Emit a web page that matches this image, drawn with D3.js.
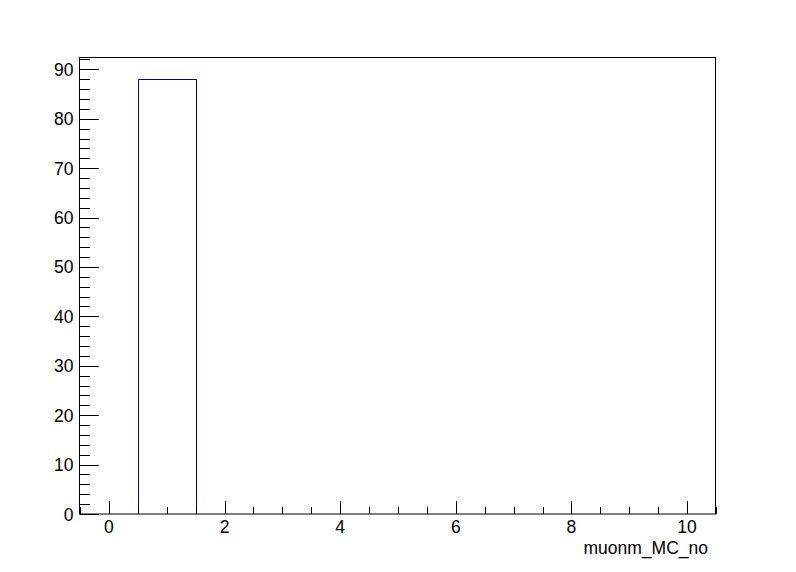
<!DOCTYPE html>
<html>
<head>
<meta charset="utf-8">
<script src="https://cdn.jsdelivr.net/npm/d3@7"></script>
<style>
  body { margin: 0; background: #fff; }
  text { font-family: "Liberation Sans", Arial, sans-serif; }
</style>
</head>
<body>
<svg id="chart" width="796" height="572"></svg>
<script>
// histogram muonm_MC_no: bin edges and counts
var binLow = [0.5];
var binHigh = [1.5];
var binCounts = [88];
var xMajorTicks = [0, 2, 4, 6, 8, 10];
var yMajorTicks = [0, 10, 20, 30, 40, 50, 60, 70, 80, 90];
var xTitle = "muonm_MC_no";

var svg = d3.select("#chart"),
    width = +svg.attr("width"),
    height = +svg.attr("height");

var frameLeft = 80, frameRight = 716, frameTop = 57.5, frameBottom = 514;

var x = d3.scaleLinear().domain([-0.5, 10.5]).range([frameLeft, frameRight]);
var y = d3.scaleLinear().domain([0, 92.4]).range([frameBottom, frameTop]);

var xMinor = d3.range(-0.5, 10.51, 0.5).filter(function(v) { return xMajorTicks.indexOf(v) < 0; });
var yMinor = d3.range(0, 92.5, 2).filter(function(v) { return v % 10 !== 0; });

// histogram outline
var bars = svg.append("g");
binCounts.forEach(function(c, i) {
    var path = d3.path();
    path.moveTo(Math.round(x(binLow[i])) + 0.5, y(0));
    path.lineTo(Math.round(x(binLow[i])) + 0.5, Math.round(y(c)) + 0.5);
    path.lineTo(Math.round(x(binHigh[i])) + 0.5, Math.round(y(c)) + 0.5);
    path.lineTo(Math.round(x(binHigh[i])) + 0.5, y(0));
    bars.append("path")
        .attr("d", path.toString())
        .attr("fill", "none")
        .attr("stroke", "#000099")
        .attr("stroke-width", 1);
});

// frame
svg.append("rect")
    .attr("x", frameLeft - 0.5).attr("y", frameTop)
    .attr("width", frameRight - frameLeft).attr("height", frameBottom - frameTop)
    .attr("fill", "none").attr("stroke", "#000").attr("stroke-width", 1);

var ticks = svg.append("g").attr("stroke", "#000").attr("stroke-width", 1);

// x ticks
xMajorTicks.forEach(function(v) {
    ticks.append("line")
        .attr("x1", Math.round(x(v)) + 0.5).attr("x2", Math.round(x(v)) + 0.5)
        .attr("y1", frameBottom).attr("y2", frameBottom - 13);
});
xMinor.forEach(function(v) {
    ticks.append("line")
        .attr("x1", Math.round(x(v)) + 0.5).attr("x2", Math.round(x(v)) + 0.5)
        .attr("y1", frameBottom).attr("y2", frameBottom - 7);
});

// y ticks
yMajorTicks.forEach(function(v) {
    ticks.append("line")
        .attr("x1", frameLeft).attr("x2", frameLeft + 19)
        .attr("y1", Math.round(y(v)) + 0.5).attr("y2", Math.round(y(v)) + 0.5);
});
yMinor.forEach(function(v) {
    ticks.append("line")
        .attr("x1", frameLeft).attr("x2", frameLeft + 10)
        .attr("y1", Math.round(y(v)) + 0.5).attr("y2", Math.round(y(v)) + 0.5);
});

// labels
svg.append("g").selectAll("text")
    .data(xMajorTicks)
    .enter().append("text")
    .attr("x", function(d) { return x(d); })
    .attr("y", 533)
    .attr("text-anchor", "middle")
    .attr("font-size", 17.5)
    .text(function(d) { return d; });

svg.append("g").selectAll("text")
    .data(yMajorTicks)
    .enter().append("text")
    .attr("x", 73.5)
    .attr("y", function(d) { return y(d) + 6.5; })
    .attr("text-anchor", "end")
    .attr("font-size", 17.5)
    .text(function(d) { return d; });

svg.append("text")
    .attr("x", 708)
    .attr("y", 554)
    .attr("text-anchor", "end")
    .attr("font-size", 17.5)
    .text(xTitle);
</script>
</body>
</html>
